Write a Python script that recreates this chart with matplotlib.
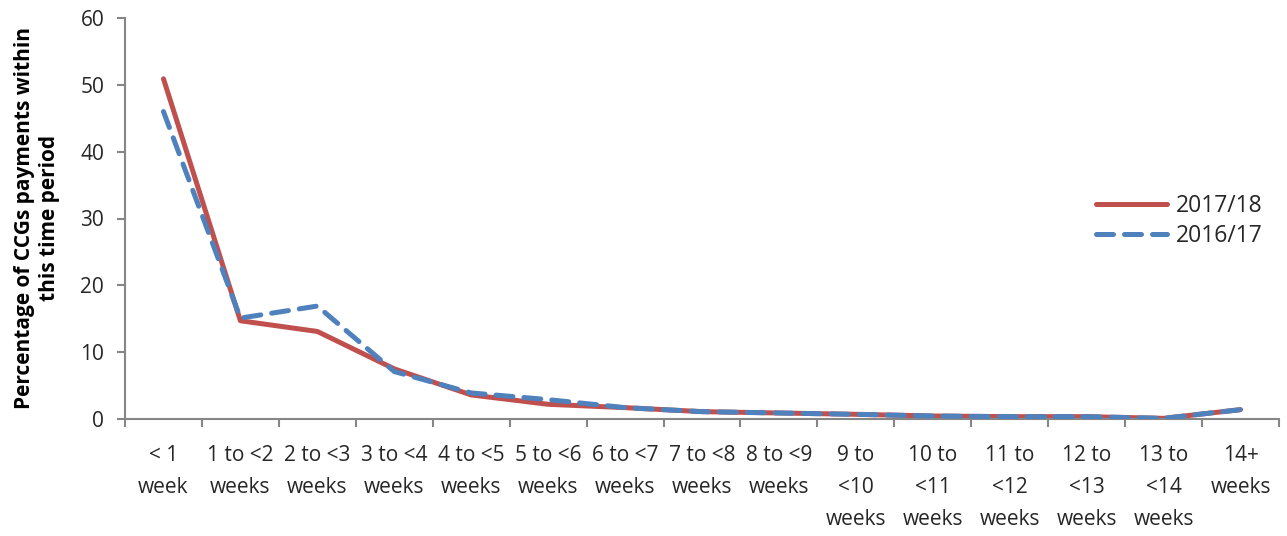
import matplotlib
matplotlib.use("Agg")
import matplotlib.pyplot as plt
import numpy as np

# Payment-time bands
categories = [
    "< 1\nweek", "1 to <2\nweeks", "2 to <3\nweeks", "3 to <4\nweeks",
    "4 to <5\nweeks", "5 to <6\nweeks", "6 to <7\nweeks", "7 to <8\nweeks",
    "8 to <9\nweeks", "9 to\n<10\nweeks", "10 to\n<11\nweeks",
    "11 to\n<12\nweeks", "12 to\n<13\nweeks", "13 to\n<14\nweeks",
    "14+\nweeks",
]

# Share of CCG payments (%) in each band
values_2017_18 = [50.9, 14.7, 13.1, 7.5, 3.6, 2.2, 1.7, 1.1, 0.9, 0.7, 0.45, 0.35, 0.35, 0.1, 1.4]
values_2016_17 = [46.0, 15.1, 16.9, 7.1, 3.9, 2.9, 1.7, 1.1, 0.9, 0.7, 0.45, 0.35, 0.35, 0.1, 1.4]

yticks = [0, 10, 20, 30, 40, 50, 60]

red = "#C0504D"
blue = "#4F81BD"
axis_grey = "#868686"
text_col = "#262626"
font = "Open Sans"

plt.rcParams["font.family"] = [font, "DejaVu Sans"]

fig = plt.figure(figsize=(12.87, 5.36), dpi=100)
ax = fig.add_axes([125 / 1287, 1 - 419 / 536, (1279 - 125) / 1287, (419 - 18) / 536])

x = np.arange(len(categories)) + 0.5
ax.plot(x, values_2017_18, color=red, lw=3.6, solid_capstyle="round",
        solid_joinstyle="round", label="2017/18", zorder=2)
ax.plot(x, values_2016_17, color=blue, lw=3.6, dashes=(3.4, 2.2),
        dash_capstyle="round", dash_joinstyle="round", label="2016/17", zorder=3)

ax.set_xlim(0, len(categories))
ax.set_ylim(0, 60)

ax.set_xticks(np.arange(len(categories) + 1))
ax.set_xticklabels([])
ax.set_xticks(x, minor=True)
ax.set_xticklabels(categories, minor=True, fontsize=15, color=text_col,
                   linespacing=1.68, va="top")
ax.tick_params(axis="x", which="minor", length=0, pad=19)
ax.tick_params(axis="x", which="major", length=6, width=1.5, color=axis_grey,
               direction="out")

ax.set_yticks(yticks)
ax.set_yticklabels([str(v) for v in yticks], fontsize=15, color=text_col)
ax.tick_params(axis="y", length=6, width=1.5, color=axis_grey, direction="out", pad=9)

for side in ("top", "right"):
    ax.spines[side].set_visible(False)
for side in ("left", "bottom"):
    ax.spines[side].set_color(axis_grey)
    ax.spines[side].set_linewidth(1.5)

fig.text(37 / 1287, 1 - 218 / 536,
         "Percentage of CCGs payments within\nthis time period",
         rotation=90, ha="center", va="center", fontsize=15,
         fontweight="bold", color="black", linespacing=1.25)

leg = ax.legend(loc="center left", bbox_to_anchor=(1096 / 1287, 1 - 221 / 536),
                bbox_transform=fig.transFigure, frameon=False, fontsize=16.5,
                handlelength=3.1, handletextpad=0.4, labelspacing=0.3,
                borderaxespad=0, borderpad=0)
for t in leg.get_texts():
    t.set_color(text_col)

fig.savefig("out.png", dpi=100)
